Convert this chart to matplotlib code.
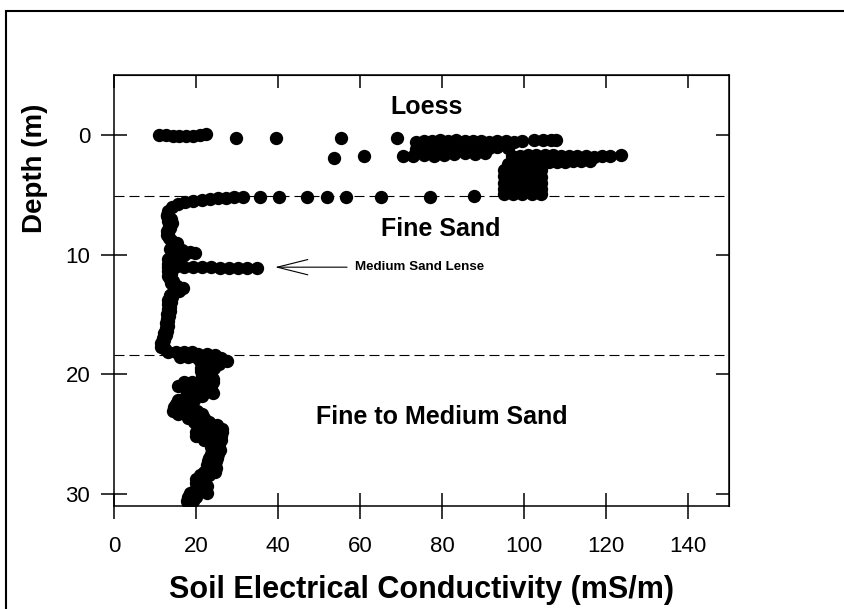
import matplotlib
matplotlib.use("Agg")
import matplotlib.pyplot as plt
from matplotlib.patches import Rectangle

plt.rcParams['font.family'] = ['Liberation Sans', 'DejaVu Sans']

# EC readings (mS/m) against depth (m), grouped by stretch of the log
surface_ec = [10.8, 12.5, 14.2, 15.9, 17.6, 19.3, 21.0, 22.4, 29.6, 39.4, 55.2, 53.7, 60.9]
surface_depth = [0.0, 0.05, 0.1, 0.1, 0.12, 0.1, 0.05, -0.1, 0.25, 0.25, 0.3, 1.95, 1.8]

loess_ec = [68.9, 73.5, 75.5, 77.5, 79.5, 81.5, 83.5, 85.5, 87.5, 89.5, 91.5, 93.5, 95.5, 97.5,
            99.5, 102.5, 104.5, 106.5, 107.8,
            73.5, 75.5, 77.5, 79.5, 81.5, 83.5, 85.5, 87.5, 89.5, 91.5, 93.5, 96,
            70.5, 73, 75.5, 78, 80.5, 83, 85.5, 88, 90.5,
            97, 99, 101, 103, 105, 107, 109, 111, 113, 115, 117, 119, 121, 123.7,
            96, 98, 100, 102, 104, 106, 108, 110, 112, 114, 116,
            95, 97.3, 99.6, 101.9, 104.2, 95, 97.3, 99.6, 101.9, 104.2,
            95, 97.3, 99.6, 101.9, 104.2, 95, 97.3, 99.6, 101.9, 104.2,
            95, 97.3, 99.6, 101.9, 104.2]
loess_depth = [0.3, 0.6, 0.5, 0.55, 0.45, 0.5, 0.4, 0.5, 0.55, 0.5, 0.6, 0.5, 0.55, 0.6,
               0.55, 0.45, 0.4, 0.45, 0.45,
               1.2, 1.1, 1.05, 1.1, 1.0, 1.05, 1.2, 1.1, 1.0, 1.1, 1.0, 1.1,
               1.75, 1.75, 1.7, 1.75, 1.7, 1.6, 1.55, 1.6, 1.5,
               1.8, 1.75, 1.7, 1.65, 1.7, 1.7, 1.75, 1.75, 1.8, 1.8, 1.85, 1.8, 1.75, 1.65,
               2.4, 2.35, 2.35, 2.3, 2.3, 2.3, 2.3, 2.25, 2.2, 2.2, 2.15,
               2.9, 2.9, 2.9, 2.9, 2.9, 3.45, 3.45, 3.45, 3.45, 3.5,
               4.0, 4.0, 4.0, 4.0, 4.0, 4.5, 4.5, 4.5, 4.5, 4.5,
               4.95, 4.95, 4.95, 4.95, 4.9]

contact_ec = [12.8, 13.2, 14.0, 15.5, 17.3, 19.3, 21.3, 23.3, 25.3, 27.3, 29.3, 31.3,
              35.5, 40.2, 46.9, 51.8, 56.5, 65.2, 77.0, 87.7]
contact_depth = [6.65, 6.35, 6.0, 5.75, 5.6, 5.5, 5.4, 5.35, 5.3, 5.25, 5.2, 5.15,
                 5.15, 5.2, 5.2, 5.2, 5.2, 5.15, 5.15, 5.1]

lense_ec = [13.0, 14.8, 17.0, 19.2, 21.4, 23.6, 25.8, 28.0, 30.2, 32.4, 34.8]
lense_depth = [11.0, 11.0, 11.05, 11.05, 11.05, 11.05, 11.1, 11.1, 11.1, 11.1, 11.1]

fine_ec = [12.8, 13.8, 13.2, 14.1, 13.4, 13.6, 12.9, 13.2, 12.9, 13.4, 13.8, 15.2,
           14.0, 15.0, 13.5, 16.5, 18.5, 19.8, 17.0, 14.0, 15.5, 13.2, 14.0, 13.2,
           14.0, 13.0, 13.8, 13.2, 13.6, 14.2, 13.8, 15.4, 16.8, 15.8, 14.2, 13.5,
           14.0, 13.2, 13.8, 13.2, 13.6, 13.0, 13.5, 12.9, 13.4, 12.8, 13.2, 12.6,
           13.1, 12.5, 12.9, 12.2, 12.6, 11.8, 12.2, 11.5, 11.9, 11.4, 12.3]
fine_depth = [6.8, 7.0, 7.2, 7.4, 7.6, 7.8, 8.0, 8.2, 8.4, 8.6, 8.8, 9.0,
              9.15, 9.35, 9.5, 9.6, 9.8, 9.9, 10.0, 10.05, 10.25, 10.4, 10.6, 10.8,
              11.2, 11.4, 11.6, 11.8, 12.0, 12.2, 12.4, 12.6, 12.8, 13.0, 13.15, 13.35,
              13.55, 13.75, 13.95, 14.15, 14.35, 14.55, 14.75, 14.95, 15.15, 15.35, 15.55, 15.75,
              15.95, 16.15, 16.35, 16.55, 16.75, 16.95, 17.15, 17.35, 17.55, 17.75, 17.9]

medium_ec = [13, 15, 17, 19,
             20.5, 22.5, 24.5,
             16, 18, 20, 22, 24, 26,
             21, 23, 25, 27.5,
             21.5, 23.5, 25.5,
             21.2, 23.2, 24.3,
             21.2, 23.0,
             21.5, 23.5,
             22.0, 24.2,
             17, 19, 21, 23, 24,
             15.5, 17.5, 19.5, 21.5, 23.5,
             17.5, 19.5, 21.5, 23.5,
             18.0, 20.0, 22.0, 24.0,
             17.5, 19.5, 21.5,
             15.5, 17.5, 19.5,
             15.0, 17.0, 19.0,
             14.5, 16.5, 18.5,
             14.2, 16.2, 18.2, 20.2,
             15.5, 17.5, 19.5, 21.5,
             18.0, 20.0, 21.8,
             19.5, 21.5, 23.0,
             21.0, 23.0, 25.0,
             20.5, 22.5, 24.5, 26.3,
             20.0, 22.0, 24.0, 26.3,
             20.0, 22.0, 24.0, 26.0,
             22.0, 24.0, 26.0,
             23.5, 25.5,
             23.5, 25.5,
             24.0, 25.8,
             23.5, 25.3,
             23.0, 25.0,
             22.8, 24.8,
             22.5, 24.5,
             22.5, 24.8,
             22.0, 24.5,
             21.0, 23.0,
             20.0, 22.0,
             20.0, 22.0,
             20.5, 22.5,
             19.8, 22.0,
             18.5, 20.5, 22.5,
             18.0, 20.0,
             17.8, 19.2,
             18.0]
medium_depth = [18.1, 18.1, 18.1, 18.15,
                18.3, 18.3, 18.35,
                18.55, 18.55, 18.55, 18.55, 18.6, 18.6,
                18.85, 18.85, 18.85, 18.85,
                19.15, 19.15, 19.15,
                19.45, 19.45, 19.45,
                19.75, 19.75,
                20.05, 20.05,
                20.35, 20.35,
                20.65, 20.65, 20.65, 20.65, 20.65,
                20.95, 20.95, 20.95, 20.95, 20.95,
                21.25, 21.25, 21.25, 21.25,
                21.55, 21.55, 21.55, 21.55,
                21.85, 21.85, 21.85,
                22.15, 22.15, 22.15,
                22.45, 22.45, 22.45,
                22.75, 22.75, 22.75,
                23.05, 23.05, 23.05, 23.05,
                23.35, 23.35, 23.35, 23.35,
                23.65, 23.65, 23.65,
                23.95, 23.95, 23.95,
                24.25, 24.25, 24.25,
                24.55, 24.55, 24.55, 24.55,
                24.85, 24.85, 24.85, 24.85,
                25.15, 25.15, 25.15, 25.15,
                25.45, 25.45, 25.45,
                25.75, 25.75,
                26.05, 26.05,
                26.35, 26.35,
                26.65, 26.65,
                26.95, 26.95,
                27.25, 27.25,
                27.55, 27.55,
                27.85, 27.85,
                28.15, 28.15,
                28.45, 28.45,
                28.75, 28.75,
                29.05, 29.05,
                29.35, 29.35,
                29.65, 29.65,
                29.95, 29.95, 29.95,
                30.25, 30.25,
                30.55, 30.55,
                30.75]

boundaries = [5.13, 18.35]
layer_names = ['Loess', 'Fine Sand', 'Fine to Medium Sand']
layer_x = [76.2, 79.7, 80.0]
layer_y = [-2.3, 7.85, 23.55]

xticks = [0, 20, 40, 60, 80, 100, 120, 140]
yticks = [0, 10, 20, 30]

fig = plt.figure(figsize=(8.45, 6.09), dpi=100)
ax = fig.add_axes([0.1353, 0.1691, 0.7274, 0.7077])

dot = dict(s=92, c='black', linewidths=0, zorder=3)
for ec, d in [(surface_ec, surface_depth), (loess_ec, loess_depth),
              (contact_ec, contact_depth), (lense_ec, lense_depth),
              (fine_ec, fine_depth), (medium_ec, medium_depth)]:
    ax.scatter(ec, d, **dot)

for b in boundaries:
    ax.axhline(b, color='black', lw=0.8, ls=(0, (9, 4.5)), zorder=2)

for name, x, y in zip(layer_names, layer_x, layer_y):
    ax.text(x, y, name, ha='center', va='center', fontsize=18, fontweight='bold')

ax.annotate('', xy=(39.2, 11.05), xytext=(56.8, 11.05),
            arrowprops=dict(arrowstyle='->,head_length=2.2,head_width=0.55',
                            mutation_scale=10, lw=0.8, color='black',
                            shrinkA=0, shrinkB=0))
ax.text(58.7, 11.05, 'Medium Sand Lense', ha='left', va='center',
        fontsize=9.6, fontweight='bold')

ax.set_xlim(0, 150)
ax.set_ylim(31, -5)
ax.set_xticks(xticks)
ax.set_yticks(yticks)
for sp in ax.spines.values():
    sp.set_linewidth(1.1)
ax.tick_params(axis='both', direction='inout', length=18.7, width=1.1, labelsize=16)
ax.tick_params(axis='x', pad=12.5)
ax.tick_params(axis='y', pad=8)

# inward ticks on the top and right edges
top = ax.secondary_xaxis('top')
top.set_xticks(xticks)
top.tick_params(direction='in', length=9.4, width=1.1, labeltop=False)
right = ax.secondary_yaxis('right')
right.set_yticks(yticks)
right.tick_params(direction='in', length=9.4, width=1.1, labelright=False)

ax.set_xlabel('Soil Electrical Conductivity (mS/m)', fontsize=22, fontweight='bold')
ax.xaxis.label.set_va('center')
ax.xaxis.set_label_coords(0.5, -0.195)
ax.set_ylabel('Depth (m)', fontsize=20, fontweight='bold')
ax.yaxis.label.set_va('center')
ax.yaxis.set_label_coords(-0.129, 0.784)

# frame around the whole page
fig.add_artist(Rectangle((6.5 / 845, -0.05), 1.2, 1.05 - 10.5 / 609,
                         transform=fig.transFigure, fill=False,
                         lw=1.5, edgecolor='black'))

fig.savefig('out.png', dpi=100)
